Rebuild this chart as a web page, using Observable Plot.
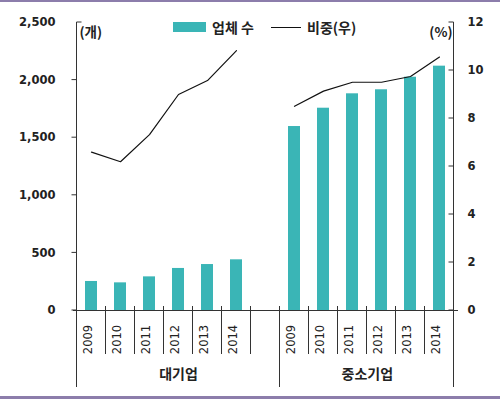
<!DOCTYPE html>
<html>
<head>
<meta charset="utf-8">
<script src="https://cdn.jsdelivr.net/npm/d3@7"></script>
<script src="https://cdn.jsdelivr.net/npm/@observablehq/plot@0.6"></script>
<style>
  body { margin: 0; background: #fff; }
  #wrap { position: relative; width: 500px; height: 394px; border-top: 2px solid #8c7dab; border-bottom: 3px solid #8c7dab; background: #fff; overflow: hidden; }
  #wrap svg { position: absolute; left: 0; top: 0; }
  .lg { position: absolute; font-family: "Noto Sans CJK KR", sans-serif; font-size: 14px; font-weight: 700; color: #222; line-height: 18px; height: 18px; white-space: nowrap; }
</style>
</head>
<body>
<div id="wrap">
  <div style="position:absolute;left:173px;top:20px;width:33px;height:10px;background:#3ab5b6"></div>
  <div class="lg" style="left:212px;top:16px">업체 수</div>
  <div style="position:absolute;left:271px;top:25px;width:30px;height:0;border-top:1.3px solid #111"></div>
  <div class="lg" style="left:307px;top:16px">비중(우)</div>
</div>
<script>
const groups = ["대기업", "중소기업"];
const years = ["2009", "2010", "2011", "2012", "2013", "2014"];
const largeCount = [252, 240, 292, 365, 399, 440];
const smeCount = [1597, 1756, 1881, 1916, 2025, 2121];
const largeShare = [6.6, 6.2, 7.33, 9.0, 9.58, 10.83];
const smeShare = [8.51, 9.14, 9.51, 9.51, 9.75, 10.56];
const leftTicks = [0, 500, 1000, 1500, 2000, 2500];
const rightTicks = [0, 2, 4, 6, 8, 10, 12];
const leftUnit = "(개)";
const rightUnit = "(%)";

const teal = "#3ab5b6";
const k = 2500 / 12; // right-axis % mapped onto left scale

const counts = [largeCount, smeCount];
const shares = [largeShare, smeShare];
const rows = [];
groups.forEach((g, gi) => years.forEach((y, i) => rows.push({
  key: g + "|" + y, group: g, year: y, count: counts[gi][i], share: shares[gi][i]
})));
const domain = [
  ...years.map(y => groups[0] + "|" + y), "gap",
  ...years.map(y => groups[1] + "|" + y)
];

const W = 500, H = 394, mL = 73, mR = 42, mT = 20, mB = 86;
const step = (W - mL - mR) / domain.length;

const numFont = "DejaVu Sans";
const krFont = "Noto Sans CJK KR";
const groupStyle = {frameAnchor: "bottom", dy: 68, fontFamily: krFont, fontWeight: "bold", fontSize: 14, fill: "#222"};

const chart = Plot.plot({
  width: W, height: H,
  marginLeft: mL, marginRight: mR, marginTop: mT, marginBottom: mB,
  style: {background: "transparent", color: "#222"},
  x: {type: "band", domain, paddingInner: 0.58, paddingOuter: 0.29, axis: null},
  y: {domain: [0, 2500]},
  marks: [
    Plot.barY(rows, {x: "key", y: "count", fill: teal}),
    Plot.ruleY([0], {stroke: "#333", strokeWidth: 1}),
    Plot.lineY(rows, {x: "key", y: d => d.share * k, z: "group", stroke: "#111", strokeWidth: 1.2}),
    Plot.axisY({ticks: leftTicks, tickSize: 0, tickPadding: 18, tickFormat: d3.format(","), label: null,
      fontFamily: numFont, fontWeight: "bold", fontSize: 11.5, fill: "#222"}),
    Plot.axisY({anchor: "right", ticks: rightTicks.map(v => v * k), tickSize: 0, tickPadding: 9, label: null,
      tickFormat: d => String(Math.round(d / k)),
      fontFamily: numFont, fontWeight: "bold", fontSize: 11.5, fill: "#222"}),
    Plot.text(rows, {x: "key", text: "year", frameAnchor: "bottom", rotate: -90, dy: 29,
      fontFamily: numFont, fontSize: 11.5, fill: "#222"}),
    // 대기업 spans slots 0–6 (incl. gap): centred on its 4th slot
    Plot.text([groups[0]], {x: () => groups[0] + "|" + years[3], text: d => d, ...groupStyle}),
    // 중소기업 spans slots 7–12: centred between its 3rd and 4th slot
    Plot.text([groups[1]], {x: () => groups[1] + "|" + years[2], text: d => d, dx: step / 2, ...groupStyle}),
    Plot.text([leftUnit], {frameAnchor: "top-left", textAnchor: "start", dx: 6, dy: 5,
      fontFamily: krFont, fontWeight: "bold", fontSize: 13.5, fill: "#222"}),
    Plot.text([rightUnit], {frameAnchor: "top-right", textAnchor: "end", dx: -6, dy: 5,
      fontFamily: krFont, fontWeight: "bold", fontSize: 13.5, fill: "#222"})
  ]
});

document.getElementById("wrap").appendChild(chart);

const xs = chart.scale("x"), ys = chart.scale("y");
const svg = d3.select(chart);
const y0 = ys.apply(0), yTop = ys.apply(2500);
const gap = xs.step - xs.bandwidth;
const boundary = i => i < domain.length ? xs.apply(domain[i]) - gap / 2 : xs.apply(domain[domain.length - 1]) + xs.bandwidth + gap / 2;
const g = svg.append("g").attr("stroke", "#333").attr("stroke-width", 1).attr("fill", "none");
const xL = boundary(0), xR = boundary(domain.length);
// axes lines
g.append("line").attr("x1", xL).attr("x2", xL).attr("y1", yTop).attr("y2", y0 + 77);
g.append("line").attr("x1", xR).attr("x2", xR).attr("y1", yTop).attr("y2", y0 + 77);
// left ticks
leftTicks.forEach(v => {
  const yy = ys.apply(v);
  if (v === leftTicks[leftTicks.length - 1]) g.append("line").attr("x1", xL).attr("x2", xL + 5).attr("y1", yy).attr("y2", yy);
  else g.append("line").attr("x1", xL - 5).attr("x2", xL).attr("y1", yy).attr("y2", yy);
});
// right ticks (inward)
rightTicks.forEach(v => {
  const yy = ys.apply(v * k);
  g.append("line").attr("x1", xR - 5).attr("x2", xR).attr("y1", yy).attr("y2", yy);
});
// category separators
const midIdx = domain.indexOf(groups[1] + "|" + years[0]);
for (let i = 1; i < domain.length; i++) {
  const xx = boundary(i);
  g.append("line").attr("x1", xx).attr("x2", xx).attr("y1", y0 - 4).attr("y2", i === midIdx ? y0 + 77 : y0 + 44);
}
</script>
</body>
</html>
